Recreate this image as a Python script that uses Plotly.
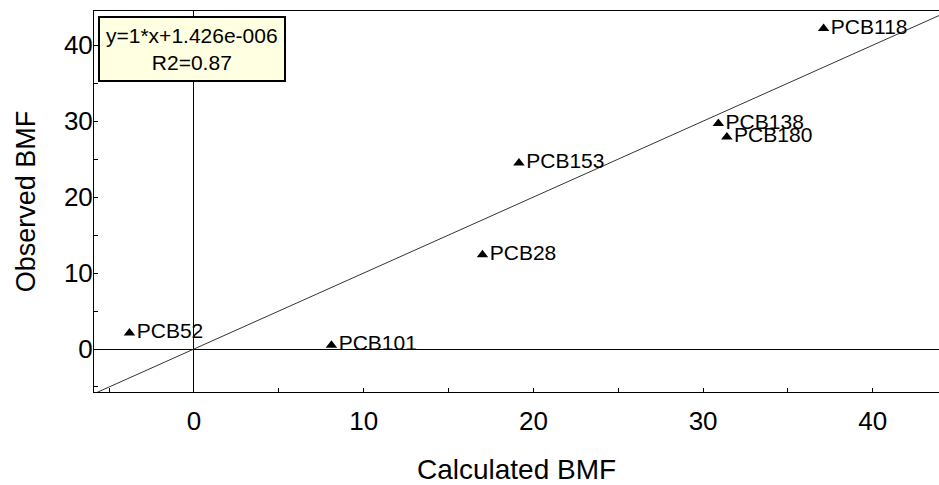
import plotly.graph_objects as go

# Data
labels = ["PCB118", "PCB138", "PCB180", "PCB153", "PCB28", "PCB52", "PCB101"]
calculated = [37.1, 30.9, 31.4, 19.15, 17.0, -3.8, 8.1]
observed = [42.2, 29.7, 27.9, 24.5, 12.4, 2.1, 0.5]
slope = 1.0
intercept = 1.426e-6
fit_x = [-10, 50]
fit_y = [slope * v + intercept for v in fit_x]
x_range = [-5.89, 43.9]
y_range = [-5.66, 44.5]

font = "Liberation Sans, Arial, sans-serif"

fig = go.Figure()
fig.add_trace(go.Scatter(
    x=fit_x, y=fit_y, mode="lines",
    line=dict(color="#333333", width=1), hoverinfo="skip", showlegend=False))
fig.add_trace(go.Scatter(
    x=calculated, y=observed, mode="markers+text",
    marker=dict(symbol="triangle-up", color="black", size=10),
    text=labels, textposition="middle right",
    textfont=dict(family=font, size=21, color="black"),
    showlegend=False))

axis_common = dict(
    showgrid=False, zeroline=True, zerolinecolor="black", zerolinewidth=1,
    showline=True, linecolor="black", linewidth=1,
    ticks="inside", ticklen=4, tickcolor="black", dtick=10, tick0=0,
    minor=dict(dtick=5, tick0=0, ticks="inside", ticklen=4, tickcolor="black", showgrid=False),
    tickfont=dict(family=font, size=26, color="black"),
)

fig.update_layout(
    width=939, height=485,
    margin=dict(l=94, r=0, t=11, b=93),
    plot_bgcolor="white", paper_bgcolor="white",
    xaxis=dict(range=x_range, mirror=True, ticklabelstandoff=6,
               title=dict(text="Calculated BMF", font=dict(family=font, size=28, color="black"), standoff=28),
               **axis_common),
    yaxis=dict(range=y_range, ticklabelstandoff=-5,
               title=dict(text="Observed BMF", font=dict(family=font, size=27, color="black"), standoff=20),
               **axis_common),
    annotations=[dict(
        xref="paper", yref="paper", x=0.0047, y=0.987, xanchor="left", yanchor="top",
        text="y=1*x+1.426e-006<br>R2=0.87", showarrow=False, align="center",
        font=dict(family=font, size=21, color="black"),
        bgcolor="#FFFFE1", bordercolor="black", borderwidth=2, borderpad=6)],
)

fig.write_html("out.html", config={"displayModeBar": False},
               post_script="document.body.style.margin='0';document.body.style.overflow='hidden';")
